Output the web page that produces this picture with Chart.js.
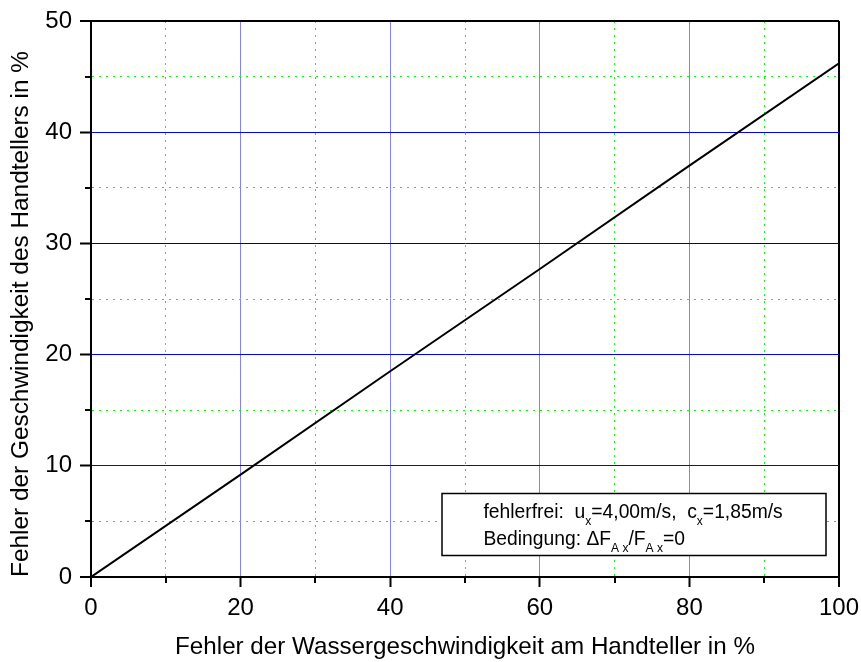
<!DOCTYPE html>
<html>
<head>
<meta charset="utf-8">
<script src="https://cdn.jsdelivr.net/npm/chart.js@4/dist/chart.umd.min.js"></script>
<style>
html,body{margin:0;padding:0;background:#fff}
#wrap{width:861px;height:662px;position:relative}
</style>
</head>
<body>
<div id="wrap"><canvas id="c"></canvas></div>
<script>
// ---- data ----
const xValues = [0, 20, 40, 60, 80, 100];
const yValues = [0, 9.2, 18.5, 27.7, 37.0, 46.2];
const xTickValues = [0, 10, 20, 30, 40, 50, 60, 70, 80, 90, 100];
const yTickValues = [0, 5, 10, 15, 20, 25, 30, 35, 40, 45, 50];
const xLabelValues = [0, 20, 40, 60, 80, 100];
const yLabelValues = [0, 10, 20, 30, 40, 50];
const xTitle = 'Fehler der Wassergeschwindigkeit am Handteller in %';
const yTitle = 'Fehler der Geschwindigkeit des Handtellers in %';
const legendLine1 = [['fehlerfrei:  u', false], ['x', true], ['=4,00m/s,  c', false], ['x', true], ['=1,85m/s', false]];
const legendLine2 = [['Bedingung: \u0394F', false], ['A x', true], ['/F', false], ['A x', true], ['=0', false]];

const FONT = "'Liberation Sans', Arial, sans-serif";
Chart.defaults.color = '#000';
Chart.defaults.font.family = FONT;

const GREEN = '#00ff00';

function xGridColor(c) {
  const v = c.tick ? c.tick.value : null;
  if (v === 0 || v === 100) return '#000';
  if (xLabelValues.includes(v)) return '#8080ff';
  return GREEN;
}
function yGridColor(c) {
  const v = c.tick ? c.tick.value : null;
  if (v === 0 || v === 50) return '#000';
  if (v === 30) return '#0000a0';
  if (yLabelValues.includes(v)) return '#0000ff';
  return GREEN;
}

const extras = {
  id: 'extras',
  afterDraw(chart) {
    const {ctx, chartArea: a, scales: {x, y}} = chart;
    ctx.save();
    // minor tick marks
    ctx.strokeStyle = '#000';
    ctx.lineWidth = 2;
    xTickValues.filter(v => !xLabelValues.includes(v)).forEach(v => {
      const px = Math.round(x.getPixelForValue(v));
      ctx.beginPath(); ctx.moveTo(px, a.bottom); ctx.lineTo(px, a.bottom + 6); ctx.stroke();
    });
    yTickValues.filter(v => !yLabelValues.includes(v)).forEach(v => {
      const py = Math.round(y.getPixelForValue(v));
      ctx.beginPath(); ctx.moveTo(a.left, py); ctx.lineTo(a.left - 6, py); ctx.stroke();
    });
    // annotation box
    const bx = a.right - 397, by = a.bottom - 83.5, bw = 384, bh = 62;
    ctx.fillStyle = '#fff';
    ctx.fillRect(bx, by, bw, bh);
    ctx.lineWidth = 1.5;
    ctx.strokeStyle = '#000';
    ctx.strokeRect(bx, by, bw, bh);
    ctx.fillStyle = '#000';
    ctx.textBaseline = 'alphabetic';
    ctx.textAlign = 'left';
    const drawLine = (segs, x0, base) => {
      let cx = x0;
      segs.forEach(([t, sub]) => {
        ctx.font = (sub ? '12px ' : '19.3px ') + FONT;
        ctx.fillText(t, cx, sub ? base + 7 : base);
        cx += ctx.measureText(t).width;
      });
    };
    drawLine(legendLine1, bx + 41.5, by + 24.5);
    drawLine(legendLine2, bx + 41.5, by + 51.5);
    ctx.restore();
  }
};

new Chart(document.getElementById('c'), {
  type: 'scatter',
  data: {
    datasets: [{
      data: xValues.map((v, i) => ({x: v, y: yValues[i]})),
      showLine: true,
      borderColor: '#000',
      borderWidth: 2,
      pointRadius: 0,
      fill: false,
      tension: 0
    }]
  },
  options: {
    responsive: true,
    maintainAspectRatio: false,
    animation: false,
    events: [],
    layout: {padding: {left: 0, top: 21, right: 22, bottom: 0}},
    plugins: {legend: {display: false}, tooltip: {enabled: false}},
    scales: {
      x: {
        type: 'linear', min: 0, max: 100,
        afterBuildTicks: s => { s.ticks = xTickValues.map(v => ({value: v})); },
        afterFit: s => { s.height = 85; s.paddingRight = 0; s.paddingLeft = 0; },
        ticks: {
          autoSkip: false, maxRotation: 0, padding: 7,
          font: {size: 24},
          callback: v => xLabelValues.includes(v) ? String(v) : ''
        },
        grid: {
          color: xGridColor,
          lineWidth: c => (c.tick && (c.tick.value === 100 || c.tick.value === 0)) ? 2 : 1,
          tickLength: 10,
          tickWidth: 2,
          tickColor: c => (c.tick && xLabelValues.includes(c.tick.value)) ? '#000' : 'rgba(0,0,0,0)'
        },
        border: {
          display: true, color: '#000', width: 2,
          dash: c => (c.tick && !xLabelValues.includes(c.tick.value)) ? [2, 5] : []
        },
        title: {
          display: true, text: xTitle,
          font: {size: 24.2}, padding: {top: 0, bottom: 0}
        }
      },
      y: {
        type: 'linear', min: 0, max: 50,
        afterBuildTicks: s => { s.ticks = yTickValues.map(v => ({value: v})); },
        afterFit: s => { s.width = 91; s.paddingTop = 0; s.paddingBottom = 0; },
        ticks: {
          autoSkip: false, padding: 8,
          font: {size: 24},
          callback: v => yLabelValues.includes(v) ? String(v) : ''
        },
        grid: {
          color: yGridColor,
          lineWidth: c => (c.tick && (c.tick.value === 50 || c.tick.value === 0)) ? 2 : 1,
          tickLength: 11,
          tickWidth: 2,
          tickColor: c => (c.tick && yLabelValues.includes(c.tick.value)) ? '#000' : 'rgba(0,0,0,0)'
        },
        border: {
          display: true, color: '#000', width: 2,
          dash: c => (c.tick && !yLabelValues.includes(c.tick.value)) ? [2, 5] : []
        },
        title: {
          display: true, text: yTitle, align: 'start',
          font: {size: 24.4}, padding: {top: 7, bottom: 0}
        }
      }
    }
  },
  plugins: [extras]
});
</script>
</body>
</html>
